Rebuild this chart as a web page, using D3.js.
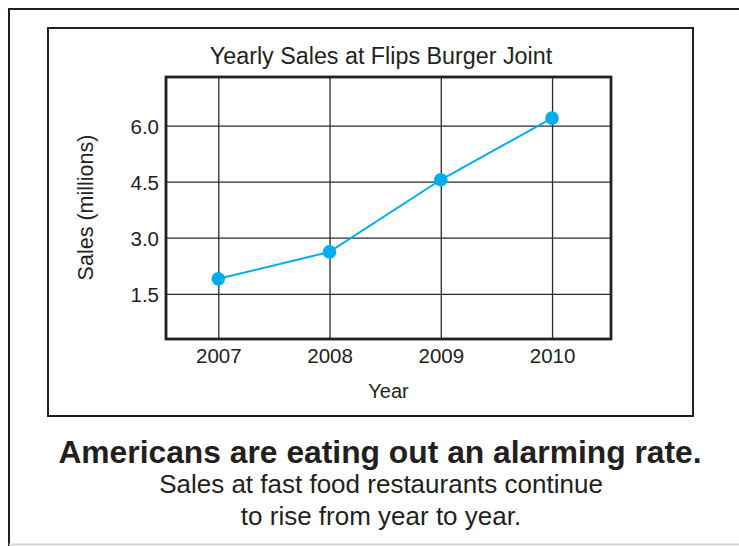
<!DOCTYPE html>
<html>
<head>
<meta charset="utf-8">
<script src="https://cdn.jsdelivr.net/npm/d3@7"></script>
<style>
  html, body { margin: 0; padding: 0; background: #fff; }
  svg { display: block; }
  text { font-family: "Liberation Sans", Arial, Helvetica, sans-serif; fill: #231f20; }
</style>
</head>
<body>
<svg id="chart" width="739" height="546"></svg>
<script>
// ---- data ----
const years = [2007, 2008, 2009, 2010];
const sales = [1.9, 2.62, 4.55, 6.2];
const yTicks = [1.5, 3.0, 4.5, 6.0];
const chartTitle = "Yearly Sales at Flips Burger Joint";
const xTitle = "Year";
const yTitle = "Sales (millions)";
const headline = "Americans are eating out an alarming rate.";
const subLines = ["Sales at fast food restaurants continue", "to rise from year to year."];

const svg = d3.select("#chart");
const ink = "#231f20";

// outer frame
svg.append("line").attr("x1", 9).attr("y1", 9).attr("x2", 739).attr("y2", 9)
  .attr("stroke", ink).attr("stroke-width", 2);
svg.append("line").attr("x1", 9).attr("y1", 8).attr("x2", 9).attr("y2", 546)
  .attr("stroke", ink).attr("stroke-width", 2);
svg.append("line").attr("x1", 9).attr("y1", 544.5).attr("x2", 739).attr("y2", 544.5)
  .attr("stroke", "#d4d4d4").attr("stroke-width", 2);

// inner box
svg.append("rect").attr("x", 48).attr("y", 28).attr("width", 645).attr("height", 388)
  .attr("fill", "none").attr("stroke", ink).attr("stroke-width", 2);

// plot
const pl = 166, pt = 77, pw = 445, ph = 262;
const x = d3.scaleLinear().domain([2006.53, 2010.53]).range([0, pw]);
const y = d3.scaleLinear().domain([0.29, 7.3]).range([ph, 0]);

const g = svg.append("g").attr("transform", `translate(${pl},${pt})`);

const yAxis = d3.axisLeft(y).tickValues(yTicks).tickFormat(d3.format(".1f"))
  .tickSize(-pw).tickPadding(7);
const yg = g.append("g").call(yAxis);
yg.select(".domain").remove();
yg.selectAll(".tick line").attr("stroke", "#2b2b2b").attr("stroke-width", 1.3);
yg.selectAll(".tick text").attr("font-size", 20.5).attr("fill", ink)
  .attr("font-family", "'Liberation Sans', Arial, sans-serif").attr("dy", "0.38em");

const xAxis = d3.axisBottom(x).tickValues(years).tickFormat(d3.format("d"))
  .tickSize(-ph).tickPadding(9);
const xg = g.append("g").attr("transform", `translate(0,${ph})`).call(xAxis);
xg.select(".domain").remove();
xg.selectAll(".tick line").attr("stroke", "#2b2b2b").attr("stroke-width", 1.3);
xg.selectAll(".tick text").attr("font-size", 20.5).attr("fill", ink)
  .attr("font-family", "'Liberation Sans', Arial, sans-serif");

// plot frame
g.append("rect").attr("x", 0).attr("y", 0).attr("width", pw).attr("height", ph)
  .attr("fill", "none").attr("stroke", ink).attr("stroke-width", 2.8);

// series
const pts = years.map((yr, i) => ({ yr, v: sales[i] }));
g.append("path").datum(pts)
  .attr("d", d3.line().x(d => x(d.yr)).y(d => y(d.v)))
  .attr("fill", "none").attr("stroke", "#00aeef").attr("stroke-width", 2);
g.selectAll("circle.pt").data(pts).join("circle").attr("class", "pt")
  .attr("cx", d => x(d.yr)).attr("cy", d => y(d.v)).attr("r", 6.8)
  .attr("fill", "#00aeef");

// titles
svg.append("text").attr("x", 381).attr("y", 64.3).attr("text-anchor", "middle")
  .attr("font-size", 23.3).text(chartTitle);
svg.append("text").attr("x", pl + pw / 2).attr("y", 398).attr("text-anchor", "middle")
  .attr("font-size", 20).text(xTitle);
svg.append("text").attr("transform", "translate(93,207.5) rotate(-90)")
  .attr("text-anchor", "middle").attr("font-size", 21.5).text(yTitle);

svg.append("text").attr("x", 380).attr("y", 463).attr("text-anchor", "middle")
  .attr("font-size", 31.8).attr("font-weight", "bold").text(headline);
svg.selectAll("text.sub").data(subLines).join("text").attr("class", "sub")
  .attr("x", 381).attr("y", (d, i) => 493 + i * 32).attr("text-anchor", "middle")
  .attr("font-size", 26).text(d => d);
</script>
</body>
</html>
